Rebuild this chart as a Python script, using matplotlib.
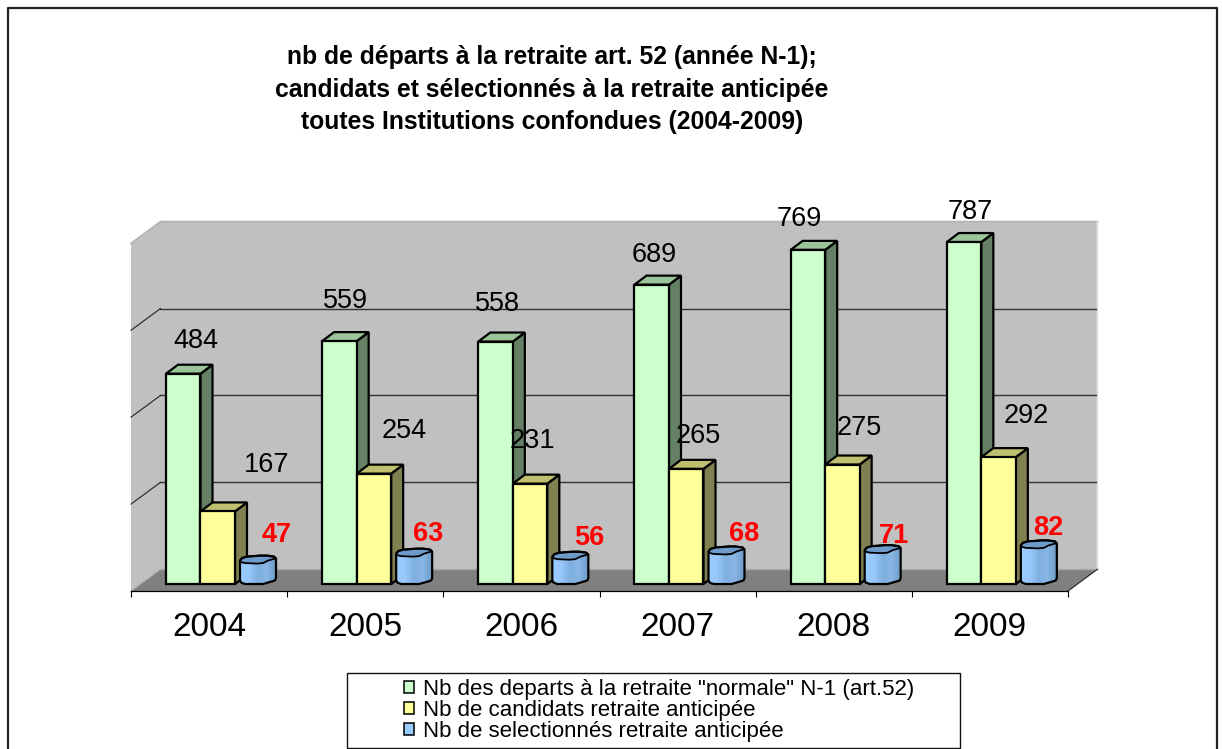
"""
Pseudo-3D clustered columns: retirements, early-retirement candidates and selected (2004-2009).
"""
import numpy as np
import matplotlib
matplotlib.use("Agg")
import matplotlib.pyplot as plt
from matplotlib.colors import LinearSegmentedColormap
from matplotlib.patches import Patch, Polygon, Rectangle
from matplotlib.path import Path

years = ["2004", "2005", "2006", "2007", "2008", "2009"]
departs = [484, 559, 558, 689, 769, 787]
candidats = [167, 254, 231, 265, 275, 292]
selectionnes = [47, 63, 56, 68, 71, 82]
legend_labels = ['Nb des departs à la retraite "normale" N-1 (art.52)',
                 "Nb de candidats retraite anticipée",
                 "Nb de selectionnés retraite anticipée"]
title = ("nb de départs à la retraite art. 52 (année N-1);\n"
         "candidats et sélectionnés à la retraite anticipée\n"
         "toutes Institutions confondues (2004-2009)")

# label nudges in pixels from the top of each bar (the original is hand placed)
depart_nudge = [(13, 33), (6, 40), (2, 38), (2, 30), (-9, 31), (6, 30)]
candidat_nudge = [(49, 46), (30, 43), (2, 43), (12, 33), (17, 37), (28, 41)]
selec_nudge = [(19, 29), (14, 23), (19, 22), (18, 20), (11, 17), (9, 20)]

W, H = 1222, 749
PX_X = 156.17  # pixels per category
PX_Y = 0.4345  # pixels per unit
FLOOR = 34     # back wall floor, in value units

GREEN = ("#ccffcc", "#9bc49b", "#668066")
YELLOW = ("#ffff99", "#bfbf70", "#808050")
BLUE_TOP = "#6d9ccb"
EDGE = "#000000"

# wobbly outline of the cylinder, pixels: across, above the base / above the value line
BLOB_FOOT = [(0, 4), (1, 1.5), (5, 0), (23, 0), (30, 2), (35, 3.5), (36, 6)]
BLOB_HEAD = [(36, 5), (34, 7), (27, 8), (20, 8), (14, 7.5), (7, 7), (2, 5.5), (0, 3)]
BLOB_LIP = [(1, 1.5), (5, 0.5), (17, 0), (23, 0.5), (28, 3), (35, 5)]

plt.rcParams["font.family"] = ["Liberation Sans", "DejaVu Sans"]


def dx(px):
    return px / PX_X


def dy(px):
    return px / PX_Y


def box(ax, x, w, value, colors):
    """Front, top and side faces of one column."""
    d_x, d_y = dx(12), dy(9)
    front = [(x, 0), (x + w, 0), (x + w, value), (x, value)]
    top = [(x, value), (x + w, value), (x + w + d_x, value + d_y), (x + d_x, value + d_y)]
    side = [(x + w, 0), (x + w + d_x, d_y), (x + w + d_x, value + d_y), (x + w, value)]
    for pts, col in ((side, colors[2]), (top, colors[1]), (front, colors[0])):
        ax.add_patch(Polygon(pts, closed=True, facecolor=col, edgecolor=EDGE, lw=1.6,
                             joinstyle="miter", clip_on=False, zorder=3))


def blob(ax, x, value, cmap):
    """The wobbly blue cylinder."""
    foot = [(x + dx(a), dy(b)) for a, b in BLOB_FOOT]
    head = [(x + dx(a), value + dy(b)) for a, b in BLOB_HEAD]
    lip = [(x + dx(a), value + dy(b)) for a, b in BLOB_LIP]
    outline = foot + head
    im = ax.imshow(np.linspace(0, 1, 40).reshape(1, -1), cmap=cmap, aspect="auto",
                   extent=[x, x + dx(36), 0, value + dy(10)], zorder=4, interpolation="bilinear")
    im.set_clip_path(Path(outline + outline[:1]), transform=ax.transData)
    ax.add_patch(Polygon(head + lip, closed=True, facecolor=BLUE_TOP, edgecolor=EDGE, lw=1.3,
                         joinstyle="round", clip_on=False, zorder=4.1))
    ax.add_patch(Polygon(outline, closed=True, facecolor="none", edgecolor=EDGE, lw=1.6,
                         joinstyle="round", clip_on=False, zorder=4.2))


def main():
    fig = plt.figure(figsize=(W / 100, H / 100), dpi=100, facecolor="white")
    ax = fig.add_axes([131 / W, 1 - 591 / H, (1068 - 131) / W, (591 - 222) / H])
    ax.patch.set_visible(False)

    # outer frame, no visible bottom edge in the reference
    fig.add_artist(plt.Line2D([8 / W, 8 / W, 1217 / W, 1217 / W], [0, 1 - 8 / H, 1 - 8 / H, 0],
                              transform=fig.transFigure, color="#222222", lw=1.6))

    low = -dy(7)
    d_x, d_y = dx(29.5), FLOOR - low
    top_val = FLOOR + 800
    right = 6

    # walls and floor
    ax.add_patch(Polygon([(d_x, FLOOR), (right + d_x, FLOOR), (right + d_x, top_val), (d_x, top_val)],
                         facecolor="#c0c0c0", edgecolor="none", clip_on=False, zorder=1))
    ax.add_patch(Polygon([(0, low), (d_x, FLOOR), (d_x, top_val), (0, top_val - d_y)],
                         facecolor="#c0c0c0", edgecolor="none", clip_on=False, zorder=1))
    ax.plot([0, d_x, right + d_x], [top_val - d_y, top_val, top_val],
            color="#b4b4b4", lw=1.3, clip_on=False, zorder=1.2)
    ax.plot([right + d_x] * 2, [FLOOR, top_val], color="#d4d4d4", lw=1.3, clip_on=False, zorder=1.2)
    ax.add_patch(Polygon([(0, low), (right, low), (right + d_x, FLOOR), (d_x, FLOOR)],
                         facecolor="#808080", edgecolor="none", clip_on=False, zorder=1.5))
    ax.plot([d_x, right + d_x], [FLOOR, FLOOR], color="#a8a8a8", lw=1, clip_on=False, zorder=1.6)
    ax.plot([right, right + d_x], [low, FLOOR], color="#222222", lw=0.8, clip_on=False, zorder=1.6)
    ax.plot([0, d_x], [low, FLOOR], color="#b0b0b0", lw=0.8, clip_on=False, zorder=1.6)

    # gridlines on back and left walls
    for v in (200, 400, 600):
        ax.plot([d_x, right + d_x - dx(1)], [FLOOR + v, FLOOR + v], color="#333333", lw=1.0,
                clip_on=False, zorder=1.4)
        ax.plot([0, d_x], [low + v, FLOOR + v], color="#222222", lw=0.8, clip_on=False, zorder=1.4)

    cmap = LinearSegmentedColormap.from_list("blob", ["#99ccff", "#97c8fb", "#7fafdf", "#88b6e4", "#6f9dc9"])
    w = dx(34.5)
    for i in range(len(years)):
        x0 = i + dx(35)
        box(ax, x0, w, departs[i], GREEN)
        box(ax, x0 + w, w, candidats[i], YELLOW)
        blob(ax, x0 + 2 * w + dx(5), selectionnes[i], cmap)
        ax.annotate(str(departs[i]), (x0 + w / 2, departs[i]), xytext=depart_nudge[i],
                    textcoords="offset pixels", ha="center", va="center", fontsize=19.5, zorder=6)
        ax.annotate(str(candidats[i]), (x0 + 1.5 * w, candidats[i]), xytext=candidat_nudge[i],
                    textcoords="offset pixels", ha="center", va="center", fontsize=19.5, zorder=6)
        ax.annotate(str(selectionnes[i]), (x0 + 2 * w + dx(23), selectionnes[i]), xytext=selec_nudge[i],
                    textcoords="offset pixels", ha="center", va="center", fontsize=19.5,
                    fontweight="bold", color="#ff0000", zorder=6)

    ax.set_xlim(0, 6)
    ax.set_ylim(low, (584 - 222) / PX_Y)
    ax.set_yticks([])
    ax.set_xticks(range(7))
    ax.set_xticklabels([])
    ax.set_xticks(np.arange(len(years)) + 0.5, labels=years, minor=True)
    ax.tick_params(axis="x", which="major", length=4.5, width=0.8, direction="out")
    ax.tick_params(axis="x", which="minor", length=0, pad=15, labelsize=24)
    for side in ("top", "left", "right"):
        ax.spines[side].set_visible(False)
    ax.spines["bottom"].set_linewidth(0.9)
    ax.spines["bottom"].set_zorder(2)

    fig.text(552 / W, 1 - 89.5 / H, title, ha="center", va="center", fontsize=17.8, fontweight="bold",
             linespacing=1.43)

    # legend box
    fig.add_artist(Rectangle((347 / W, 1 - 748 / H), (960 - 347) / W, (748 - 673) / H,
                             transform=fig.transFigure, facecolor="white", edgecolor="#111111", lw=1.0))
    handles = [Patch(facecolor=c[0], edgecolor=EDGE, lw=1.1) for c in (GREEN, YELLOW, ("#99ccff",))]
    fig.legend(handles, legend_labels, loc="upper left", bbox_to_anchor=(397 / W, 1 - 672 / H),
               frameon=False, fontsize=16, handlelength=0.45, handleheight=0.45, handletextpad=0.4,
               labelspacing=0.0, borderpad=0.3, borderaxespad=0)

    fig.savefig("out.png", dpi=100)
    plt.close(fig)


if __name__ == "__main__":
    main()
